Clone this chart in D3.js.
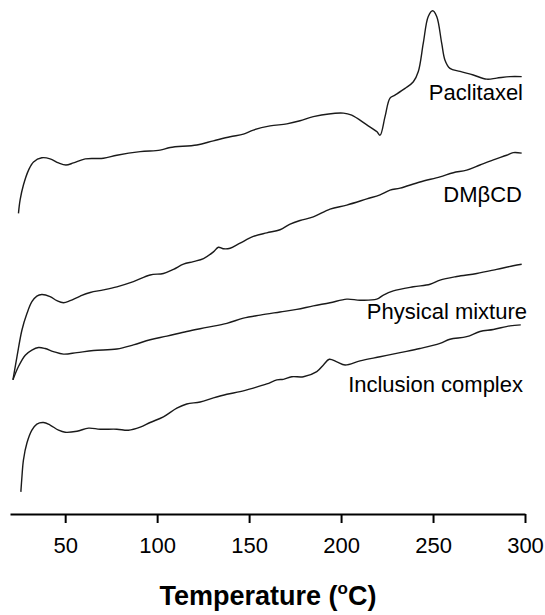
<!DOCTYPE html>
<html>
<head>
<meta charset="utf-8">
<script src="https://cdn.jsdelivr.net/npm/d3@7"></script>
<style>
  html, body { margin: 0; padding: 0; background: #fff; }
  svg { display: block; font-family: Arial, "Liberation Sans", sans-serif; }
</style>
</head>
<body>
<svg id="chart" width="545" height="615"></svg>
<script>
// DSC thermograms: heat flow (arbitrary units, traces offset) vs temperature
const xTicks = [50, 100, 150, 200, 250, 300];

const paclitaxelT = [24.6, 25.5, 27.3, 30.1, 32.8, 37.3, 41.8, 46.4, 50.4, 54.5, 60.9, 70.8, 78.1, 90.8, 101.6, 107.1, 121.6, 130.6, 139.7, 146.9, 152.3, 161.4, 170.5, 177.7, 184.9, 201.3, 205.8, 214.0, 219.4, 221.2, 223.9, 226.6, 229.3, 234.8, 239.3, 242.0, 244.7, 247.4, 249.8, 252.0, 254.7, 256.5, 259.2, 264.7, 271.9, 279.2, 284.6, 291.8, 298.2];
const paclitaxelV = [58.5, 61.1, 64.0, 66.9, 68.5, 69.3, 69.1, 68.3, 67.9, 68.3, 69.1, 69.2, 69.8, 70.5, 70.8, 71.3, 71.8, 72.6, 73.4, 73.9, 74.7, 75.5, 75.9, 76.5, 77.3, 78.0, 77.6, 75.7, 74.4, 73.7, 77.3, 80.9, 81.5, 82.8, 84.1, 86.1, 91.6, 96.8, 97.9, 96.8, 91.6, 88.3, 86.7, 86.1, 85.4, 84.6, 84.8, 85.1, 85.1];

const dmbcdT = [21.6, 23.8, 26.5, 29.2, 31.9, 34.6, 37.3, 41.8, 45.5, 49.1, 52.7, 58.2, 63.6, 70.8, 78.1, 87.1, 96.2, 103.4, 108.9, 114.3, 119.7, 125.2, 130.6, 133.3, 136.0, 139.7, 145.1, 152.3, 159.6, 166.8, 172.3, 177.7, 184.9, 194.0, 203.1, 214.0, 221.2, 226.6, 232.1, 242.9, 253.8, 261.0, 268.3, 275.5, 282.8, 290.0, 293.6, 298.2];
const dmbcdV = [26.1, 30.6, 35.8, 39.0, 41.3, 42.4, 42.7, 42.3, 41.5, 41.1, 41.5, 42.4, 43.1, 43.6, 44.2, 45.2, 46.5, 46.8, 47.6, 48.6, 49.1, 49.7, 51.0, 51.9, 51.6, 51.7, 52.7, 54.0, 54.7, 55.3, 56.4, 57.1, 57.8, 59.3, 60.1, 61.3, 62.1, 63.0, 63.4, 64.6, 65.6, 66.4, 66.9, 67.9, 68.9, 69.8, 70.3, 70.2];

const physicalT = [21.6, 24.6, 28.3, 31.9, 35.5, 39.1, 43.6, 49.1, 56.4, 65.4, 78.1, 87.1, 96.2, 105.3, 116.1, 127.0, 137.9, 146.9, 156.0, 166.8, 175.9, 184.9, 194.0, 203.1, 210.3, 219.4, 223.0, 228.4, 239.3, 248.4, 253.8, 262.9, 273.8, 284.6, 293.6, 298.2];
const physicalV = [26.1, 28.7, 30.9, 31.9, 32.4, 32.2, 31.6, 31.1, 31.4, 31.8, 32.1, 32.9, 33.9, 34.6, 35.5, 36.3, 37.1, 38.1, 38.7, 39.3, 39.8, 40.5, 41.1, 41.8, 41.6, 41.8, 42.6, 43.4, 44.2, 44.7, 45.5, 46.2, 46.8, 47.6, 48.3, 48.6];

const inclusionT = [25.9, 26.5, 27.3, 29.2, 31.9, 34.6, 38.2, 41.8, 46.4, 50.0, 56.4, 62.7, 69.0, 78.1, 84.4, 90.8, 96.2, 103.4, 110.7, 116.1, 123.4, 130.6, 137.9, 145.1, 152.3, 159.6, 165.1, 168.6, 173.2, 179.5, 186.8, 190.4, 193.6, 197.7, 202.2, 210.3, 221.2, 232.1, 242.9, 253.8, 259.2, 268.3, 275.5, 282.8, 291.8, 297.7];
const inclusionV = [4.3, 7.3, 10.5, 13.8, 16.3, 17.5, 17.8, 17.3, 16.3, 15.9, 16.1, 16.7, 16.5, 16.5, 16.3, 16.9, 17.8, 18.9, 20.6, 21.4, 21.8, 22.6, 23.3, 23.8, 24.5, 25.3, 26.1, 26.2, 26.7, 26.7, 27.7, 29.0, 30.1, 29.6, 29.0, 29.8, 30.6, 31.4, 32.2, 33.2, 34.0, 34.5, 35.5, 35.9, 36.6, 36.8];

const seriesNames = ["Paclitaxel", "DM\u03B2CD", "Physical mixture", "Inclusion complex"];
const labelAnchors = [[523, 100], [522, 202], [527, 319], [523, 392]];

const svg = d3.select("#chart");

const x = d3.scaleLinear().domain([20, 300]).range([10, 525]);
const y = d3.scaleLinear().domain([0, 100]).range([514, 0]);

const line = d3.line()
  .x(d => x(d[0]))
  .y(d => y(d[1]))
  .curve(d3.curveCatmullRom.alpha(0.5));

const traces = [
  d3.zip(paclitaxelT, paclitaxelV),
  d3.zip(dmbcdT, dmbcdV),
  d3.zip(physicalT, physicalV),
  d3.zip(inclusionT, inclusionV)
];

svg.append("g")
  .selectAll("path")
  .data(traces)
  .join("path")
  .attr("d", line)
  .attr("fill", "none")
  .attr("stroke", "#1a1a1a")
  .attr("stroke-width", 1.4)
  .attr("stroke-linejoin", "round");

// series labels
svg.append("g")
  .selectAll("text")
  .data(seriesNames)
  .join("text")
  .attr("x", (d, i) => labelAnchors[i][0])
  .attr("y", (d, i) => labelAnchors[i][1])
  .attr("text-anchor", "end")
  .attr("font-size", 22)
  .attr("fill", "#000")
  .text(d => d);

// x axis
const axis = svg.append("g")
  .attr("transform", `translate(0,${y(0)})`)
  .call(d3.axisBottom(x).tickValues(xTicks).tickSize(9).tickSizeOuter(0));

axis.select(".domain").attr("stroke", "#000").attr("stroke-width", 2);
axis.selectAll(".tick line").attr("stroke", "#000").attr("stroke-width", 2);
axis.selectAll(".tick text")
  .attr("dy", null)
  .attr("y", 39)
  .attr("font-size", 22)
  .attr("font-family", "Arial, 'Liberation Sans', sans-serif")
  .attr("fill", "#000");

// axis title with superscript degree mark
const title = svg.append("text")
  .attr("x", 268)
  .attr("y", 605)
  .attr("text-anchor", "middle")
  .attr("font-size", 27)
  .attr("font-weight", "bold")
  .attr("fill", "#000");
title.append("tspan").text("Temperature (");
title.append("tspan").attr("font-size", 17).attr("dy", -11).text("o");
title.append("tspan").attr("dy", 11).text("C)");
</script>
</body>
</html>
